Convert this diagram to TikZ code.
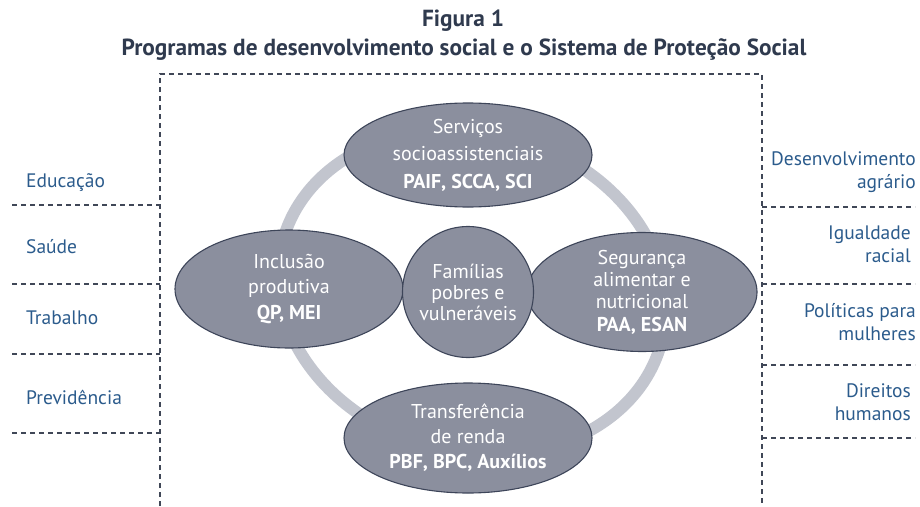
\documentclass[tikz,border=0pt]{standalone}
\usepackage{fontspec}
\setmainfont{PT Sans}
\usetikzlibrary{shapes.geometric}
\definecolor{titlec}{HTML}{2F3A4E}
\definecolor{labc}{HTML}{2B5B8C}
\definecolor{dashc}{HTML}{404757}
\definecolor{ringc}{HTML}{C2C5CE}
\definecolor{ellc}{HTML}{8B8F9E}
\definecolor{ellb}{HTML}{3D4559}
\begin{document}
\begin{tikzpicture}[x=1pt,y=-1pt,
  prog/.style={ellipse, draw=ellb, line width=1.1pt, fill=ellc, text=white, align=center, inner sep=0pt},
  dashl/.style={draw=dashc, line width=2.4pt, dash pattern=on 5pt off 4pt},
  lab/.style={text=labc, font=\fontsize{19.5}{23}\selectfont, inner sep=0pt},
  ttl/.style={text=titlec, font=\bfseries\fontsize{23.3}{26}\selectfont, inner sep=0pt}
]
\useasboundingbox (0,0) rectangle (920,506);
% titles
\node[ttl] (fig) at (463,21) {Figura 1};
\node[ttl] (sub) at (464,50) {Programas de desenvolvimento social e o Sistema de Proteção Social};
% frame
\coordinate (tl) at (160,74);
\coordinate (tr) at (762,74);
\coordinate (bl) at (160,506);
\coordinate (br) at (762,506);
\draw[dashl] (bl) -- (tl) -- (tr) -- (br);
% left separators
\coordinate (l1) at (12,205);
\coordinate (l2) at (12,284);
\coordinate (l3) at (12,354);
\coordinate (l4) at (12,433);
\foreach \c in {l1,l2,l3,l4} \draw[dashl] (\c) -- (\c -| tl);
% right separators
\coordinate (r1) at (915,207);
\coordinate (r2) at (915,284);
\coordinate (r3) at (915,365);
\coordinate (r4) at (915,438);
\foreach \c in {r1,r2,r3,r4} \draw[dashl] (\c -| tr) -- (\c);
% left labels
\node[lab, anchor=west] (educ) at (26,183) {Educação};
\node[lab, anchor=west] (saude) at (26,247) {Saúde};
\node[lab, anchor=west] (trab) at (26,318) {Trabalho};
\node[lab, anchor=west] (prev) at (26,397) {Previdência};
% right labels
\node[lab, anchor=east, align=right] (desenv) at (916,172) {Desenvolvimento\\agrário};
\node[lab, anchor=east, align=right] (igual) at (911,244) {Igualdade\\racial};
\node[lab, anchor=east, align=right] (polit) at (916,322) {Políticas para\\mulheres};
\node[lab, anchor=east, align=right] (dir) at (911,402) {Direitos\\humanos};
% ring
\draw[ringc, line width=12pt, rotate around={-15:(472,292)}] (472,292) ellipse [x radius=196, y radius=160];
% program ellipses
\node[prog, minimum width=248pt, minimum height=104pt, font=\fontsize{20}{27.5}\selectfont] (serv) at (468,155)
  {Serviços\\socioassistenciais\\\textbf{PAIF, SCCA, SCI}};
\node[prog, minimum width=228pt, minimum height=118pt, font=\fontsize{20}{25.5}\selectfont] (incl) at (289,289)
  {Inclusão\\produtiva\\\textbf{QP, MEI}};
\node[prog, minimum width=230pt, minimum height=119pt, font=\fontsize{20}{22.3}\selectfont] (seg) at (642,292)
  {Segurança\\alimentar e\\nutricional\\\textbf{PAA, ESAN}};
\node[prog, minimum width=248pt, minimum height=110pt, font=\fontsize{20}{25}\selectfont] (transf) at (468,438)
  {Transferência\\de renda\\\textbf{PBF, BPC, Auxílios}};
\node[prog, circle, minimum size=131pt, font=\fontsize{20}{21}\selectfont] (fam) at (468,292)
  {Famílias\\pobres e\\vulneráveis};
\end{tikzpicture}
\end{document}
